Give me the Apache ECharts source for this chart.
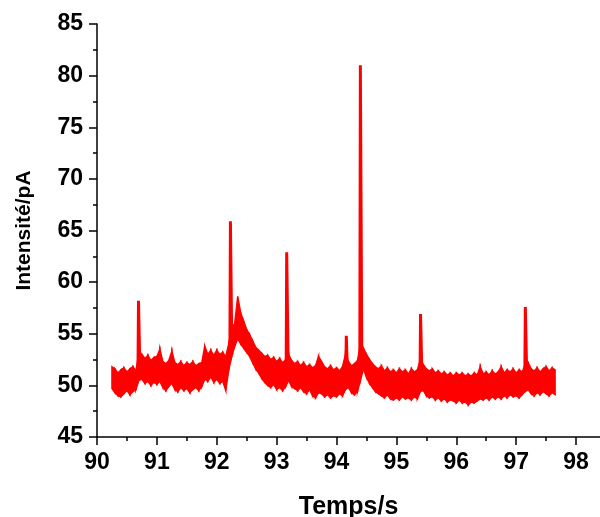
<!DOCTYPE html>
<html>
<head>
<meta charset="utf-8">
<script src="https://cdn.jsdelivr.net/npm/echarts@6/dist/echarts.min.js"></script>
<style>
  html, body { margin: 0; padding: 0; background: #fff; }
  #chart { width: 600px; height: 517px; }
</style>
</head>
<body>
<div id="chart"></div>
<script>
// envelope of the noisy trace, one sample every 0.05 s from 90.25 s
var startTime = 90.25;
var step = 0.05;
var upper = [
  51.8, 51.6, 51.2, 51.5, 51.7, 51.3, 51.6, 51.8, 51.4, 53.2,
  53.0, 52.6, 52.9, 52.4, 52.7, 52.8, 53.5, 52.3, 52.1, 52.4,
  53.3, 52.2, 52.0, 52.3, 51.9, 52.2, 52.0, 52.3, 51.9, 52.1,
  52.2, 53.8, 53.0, 53.4, 52.9, 53.4, 53.0, 53.2, 52.8, 54.0,
  55.5, 56.0, 58.6, 57.0, 56.2, 55.4, 54.9, 54.3, 53.7, 53.4,
  53.1, 52.8, 52.9, 52.5, 52.7, 52.3, 52.6, 52.2, 52.5, 53.0,
  52.4, 52.1, 52.3, 51.9, 52.2, 51.8, 52.0, 51.7, 51.9, 52.8,
  52.3, 51.8, 51.6, 51.9, 51.5, 51.7, 51.4, 51.8, 53.0, 52.3,
  51.9, 52.1, 52.4, 54.0, 53.6, 53.0, 52.5, 52.1, 51.8, 51.6,
  51.9, 51.4, 51.7, 51.3, 51.5, 51.2, 51.6, 51.3, 51.5, 51.1,
  51.6, 51.3, 51.5, 52.5, 52.0, 51.6, 51.4, 51.6, 51.2, 51.4,
  51.1, 51.3, 51.0, 51.2, 50.9, 51.2, 51.0, 51.2, 50.9, 51.1,
  50.9, 51.2, 51.0, 51.8, 51.1, 51.3, 51.0, 51.4, 51.1, 51.3,
  51.8, 51.2, 51.5, 51.3, 51.6, 51.2, 51.5, 51.3, 52.0, 52.2,
  51.6, 51.4, 51.7, 51.3, 51.6, 51.8, 51.4, 51.7, 51.5
];
var lower = [
  49.7, 49.3, 49.0, 48.9, 49.2, 49.5, 49.1, 49.4, 49.6, 50.5,
  50.6, 50.2, 50.4, 50.0, 50.3, 50.1, 50.4, 49.8, 49.5, 49.9,
  50.2, 49.6, 49.4, 49.8, 49.5, 49.7, 49.3, 49.6, 49.8, 49.5,
  49.9, 50.6, 50.4, 50.8, 50.3, 50.6, 50.2, 50.4, 49.5, 51.5,
  52.8, 53.8, 54.5, 54.0, 53.6, 53.2, 52.8, 52.2, 51.6, 51.2,
  50.7, 50.3, 50.0, 49.8, 50.1, 49.6, 49.8, 49.5, 49.9, 50.5,
  49.9, 49.7, 49.5, 49.8, 49.4, 49.2, 49.6, 49.0, 48.8, 49.3,
  49.2, 48.9, 49.1, 48.8, 49.0, 48.9, 49.2, 49.0, 49.6, 49.8,
  49.3, 49.1, 49.4, 50.5, 51.6, 50.8, 50.2, 49.8, 49.4, 49.2,
  49.0, 48.8, 49.1, 48.7, 48.6, 48.8, 48.6, 48.9, 48.7, 48.8,
  48.6, 48.9, 48.7, 49.4, 49.5, 49.0, 48.8, 48.9, 48.6, 48.8,
  48.5, 48.7, 48.4, 48.6, 48.5, 48.3, 48.6, 48.3, 48.4, 48.1,
  48.4, 48.3, 48.5, 48.7, 48.6, 48.8, 48.6, 48.9, 48.7, 48.9,
  48.7, 49.0, 48.8, 49.1, 48.9, 49.0, 48.8, 49.1, 49.4, 49.6,
  49.2, 49.0, 49.3, 49.1, 49.4, 49.2, 49.0, 49.3, 49.1
];
// sharp spikes on top of the noise
var peakTimes = [90.70, 92.235, 93.175, 94.17, 94.405, 95.41, 97.16];
var peakHeights = [58.2, 65.9, 62.9, 54.8, 81.0, 56.9, 57.6];
var peakBases = [51.0, 53.0, 51.5, 50.5, 52.0, 50.5, 50.5];

var xTicks = [90, 91, 92, 93, 94, 95, 96, 97, 98];
var xMinorTicks = [90.5, 91.5, 92.5, 93.5, 94.5, 95.5, 96.5, 97.5];

var red = '#ff0000';

// rows: [time, lower, upper]
var bandRows = [];
for (var i = 0; i < upper.length; i++) {
  bandRows.push([+(startTime + i * step).toFixed(3), lower[i], upper[i]]);
}
var spikeData = [];
for (var k = 0; k < peakTimes.length; k++) {
  var tp = peakTimes[k];
  spikeData.push([tp - 0.016, peakBases[k]]);
  spikeData.push([tp - 0.007, peakHeights[k]]);
  spikeData.push([tp + 0.007, peakHeights[k]]);
  spikeData.push([tp + 0.018, peakBases[k]]);
  spikeData.push([tp + 0.019, null]);
}

function renderBand(params, api) {
  var i = params.dataIndexInside;
  if (i >= params.dataInsideLength - 1) return null;
  var t0 = api.value(0, i), t1 = api.value(0, i + 1);
  var pts = [
    api.coord([t0, api.value(2, i)]),
    api.coord([t1, api.value(2, i + 1)]),
    api.coord([t1, api.value(1, i + 1)]),
    api.coord([t0, api.value(1, i)])
  ];
  return {
    type: 'polygon',
    shape: { points: pts },
    style: { fill: red, stroke: red, lineWidth: 1.5 }
  };
}

var labelFont = { fontFamily: 'Liberation Sans', fontWeight: 'bold', color: '#000' };

var myChart = echarts.init(document.getElementById('chart'));
myChart.setOption({
  animation: false,
  grid: { left: 97, right: 0, top: 24, bottom: 80, containLabel: false, outerBoundsMode: 'none' },
  xAxis: [{
    type: 'value',
    position: 'bottom',
    min: 90,
    max: 98.4,
    interval: 1,
    name: 'Temps/s',
    nameLocation: 'middle',
    nameGap: 58,
    nameTextStyle: { fontFamily: 'Liberation Sans', fontWeight: 'bold', fontSize: 25, color: '#000' },
    axisLine: { lineStyle: { color: '#000', width: 1.5 } },
    axisTick: { length: 8, lineStyle: { color: '#000', width: 1.5 }, customValues: xTicks },
    axisLabel: Object.assign({ fontSize: 23, margin: 14, customValues: xTicks }, labelFont),
    splitLine: { show: false }
  }, {
    type: 'value',
    position: 'bottom',
    min: 90,
    max: 98.4,
    interval: 1,
    axisLine: { show: false },
    axisTick: { length: 4, lineStyle: { color: '#000', width: 1.5 }, customValues: xMinorTicks },
    axisLabel: { show: false },
    splitLine: { show: false }
  }],
  yAxis: {
    type: 'value',
    min: 45,
    max: 85,
    interval: 5,
    name: 'Intensité/pA',
    nameLocation: 'middle',
    nameGap: 62,
    nameTextStyle: { fontFamily: 'Liberation Sans', fontWeight: 'bold', fontSize: 21, color: '#000' },
    axisLine: { show: true, lineStyle: { color: '#000', width: 1.5 } },
    axisTick: { show: true, length: 8, lineStyle: { color: '#000', width: 1.5 } },
    minorTick: { show: true, splitNumber: 2, length: 4, lineStyle: { color: '#000', width: 1.5 } },
    axisLabel: Object.assign({ fontSize: 23, margin: 14 }, labelFont),
    splitLine: { show: false }
  },
  series: [{
    name: 'band',
    type: 'custom',
    renderItem: renderBand,
    data: bandRows,
    encode: { x: 0, y: [1, 2] },
    z: 2
  }, {
    name: 'spikes',
    type: 'line',
    data: spikeData,
    symbol: 'none',
    connectNulls: false,
    lineStyle: { color: red, width: 3 },
    z: 3
  }]
});
</script>
</body>
</html>
